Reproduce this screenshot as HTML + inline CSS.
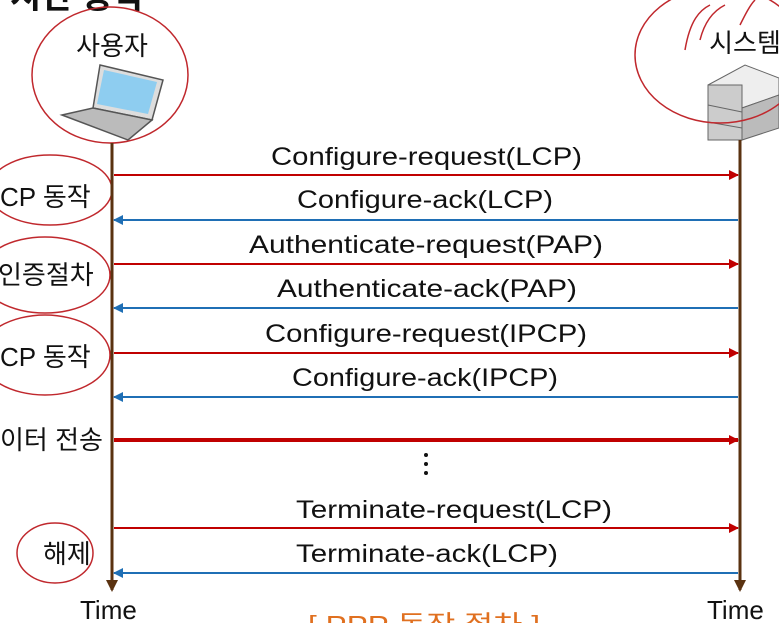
<!DOCTYPE html>
<html><head><meta charset="utf-8"><style>
html,body{margin:0;padding:0;background:#fff;width:779px;height:623px;overflow:hidden}
svg text{font-family:"Liberation Sans","Noto Sans CJK KR",sans-serif}
</style></head><body>
<svg width="779" height="623" viewBox="0 0 779 623" xmlns="http://www.w3.org/2000/svg">
<defs>
<marker id="ar" markerWidth="10" markerHeight="10" refX="9" refY="5" orient="auto" markerUnits="userSpaceOnUse"><path d="M0,0 L10,5 L0,10z" fill="#c00000"/></marker>
<marker id="ab" markerWidth="10" markerHeight="10" refX="9" refY="5" orient="auto" markerUnits="userSpaceOnUse"><path d="M0,0 L10,5 L0,10z" fill="#1f6fb5"/></marker>
<marker id="ad" markerWidth="12" markerHeight="12" refX="10" refY="6" orient="auto" markerUnits="userSpaceOnUse"><path d="M0,0 L12,6 L0,12z" fill="#5a3210"/></marker>
</defs>
<text x="10" y="8" font-size="34" font-weight="bold" fill="#111">시간 동작</text>
<text x="112" y="55" font-size="26" text-anchor="middle" fill="#111">사용자</text>
<g>
<polygon points="100,65 163,80 152,120 93,108" fill="#ddd" stroke="#555" stroke-width="1.5"/>
<polygon points="104,70 157,82 148,114 97,104" fill="#8ecdf0"/>
<polygon points="62,115 93,108 152,120 128,140" fill="#bbb" stroke="#555" stroke-width="1.5"/>
</g>
<text x="745" y="52" font-size="26" text-anchor="middle" fill="#111">시스템</text>
<g stroke="#666" stroke-width="1">
<polygon points="708,85 745,65 779,78 779,95 742,108 708,95" fill="#eee"/>
<rect x="708" y="85" width="34" height="55" fill="#ccc"/>
<polygon points="742,108 779,95 779,128 742,140" fill="#bbb"/>
<line x1="708" y1="105" x2="742" y2="112"/><line x1="708" y1="122" x2="742" y2="128"/>
</g>
<g fill="none" stroke="#c0282d" stroke-width="1.5">
<ellipse cx="110" cy="75" rx="78" ry="68"/>
<ellipse cx="720" cy="55" rx="85" ry="68"/>
<ellipse cx="50" cy="190" rx="62" ry="35"/>
<ellipse cx="45" cy="275" rx="65" ry="38"/>
<ellipse cx="45" cy="355" rx="65" ry="40"/>
<ellipse cx="55" cy="553" rx="38" ry="30"/>
<path d="M685,50 C690,20 700,10 710,5 M700,40 C705,20 715,10 725,5 M740,25 C745,15 750,5 755,0"/>
</g>
<line x1="112" y1="143" x2="112" y2="590" stroke="#5a3210" stroke-width="3" marker-end="url(#ad)"/>
<line x1="740" y1="140" x2="740" y2="590" stroke="#5a3210" stroke-width="3" marker-end="url(#ad)"/>
<g font-size="26" fill="#111">
<text x="0" y="206">CP 동작</text>
<text x="-2" y="284">인증절차</text>
<text x="0" y="366">CP 동작</text>
<text x="0" y="449">이터 전송</text>
<text x="43" y="563">해제</text>
<text x="80" y="619">Time</text>
<text x="707" y="619">Time</text>
</g>
<g stroke-width="2" fill="none">
<line x1="114" y1="175" x2="738" y2="175" stroke="#c00000" marker-end="url(#ar)"/>
<line x1="738" y1="220" x2="114" y2="220" stroke="#1f6fb5" marker-end="url(#ab)"/>
<line x1="114" y1="264" x2="738" y2="264" stroke="#c00000" marker-end="url(#ar)"/>
<line x1="738" y1="308" x2="114" y2="308" stroke="#1f6fb5" marker-end="url(#ab)"/>
<line x1="114" y1="353" x2="738" y2="353" stroke="#c00000" marker-end="url(#ar)"/>
<line x1="738" y1="397" x2="114" y2="397" stroke="#1f6fb5" marker-end="url(#ab)"/>
<line x1="114" y1="440" x2="738" y2="440" stroke="#c00000" stroke-width="4" marker-end="url(#ar)"/>
<line x1="114" y1="528" x2="738" y2="528" stroke="#c00000" marker-end="url(#ar)"/>
<line x1="738" y1="573" x2="114" y2="573" stroke="#1f6fb5" marker-end="url(#ab)"/>
</g>
<g font-size="25" fill="#111">
<text x="271" y="165" textLength="311" lengthAdjust="spacingAndGlyphs">Configure-request(LCP)</text>
<text x="297" y="208" textLength="256" lengthAdjust="spacingAndGlyphs">Configure-ack(LCP)</text>
<text x="249" y="253" textLength="354" lengthAdjust="spacingAndGlyphs">Authenticate-request(PAP)</text>
<text x="277" y="297" textLength="300" lengthAdjust="spacingAndGlyphs">Authenticate-ack(PAP)</text>
<text x="265" y="342" textLength="322" lengthAdjust="spacingAndGlyphs">Configure-request(IPCP)</text>
<text x="292" y="386" textLength="266" lengthAdjust="spacingAndGlyphs">Configure-ack(IPCP)</text>
<text x="296" y="518" textLength="316" lengthAdjust="spacingAndGlyphs">Terminate-request(LCP)</text>
<text x="296" y="562" textLength="262" lengthAdjust="spacingAndGlyphs">Terminate-ack(LCP)</text>
</g>
<g fill="#111"><circle cx="426" cy="455" r="2"/><circle cx="426" cy="464" r="2"/><circle cx="426" cy="473" r="2"/></g>
<text x="308" y="634" font-size="26" fill="#e07020" textLength="232" lengthAdjust="spacingAndGlyphs">[ PPP 동작 절차 ]</text>
</svg>
</body></html>
